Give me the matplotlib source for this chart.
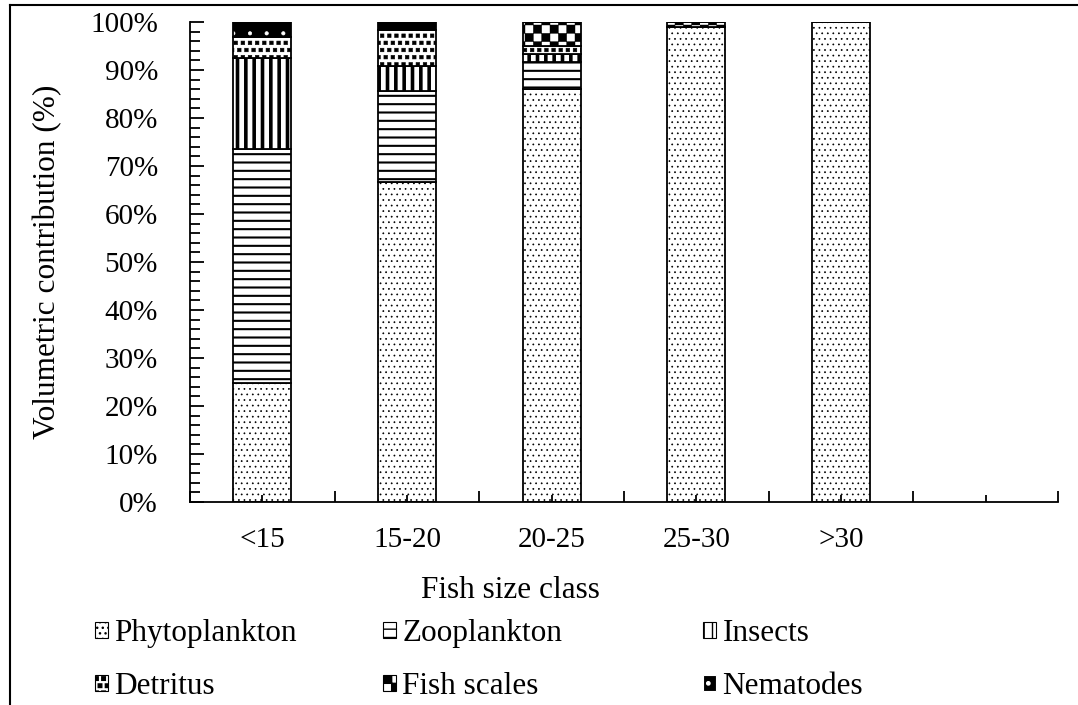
import numpy as np
import matplotlib
matplotlib.use('Agg')
import matplotlib.pyplot as plt
import matplotlib.hatch as mhatch
from matplotlib.path import Path
from matplotlib.patches import Patch
from matplotlib.lines import Line2D

plt.rcParams['font.family'] = ['Liberation Serif', 'DejaVu Serif']
plt.rcParams['font.size'] = 21

# Volumetric contribution (%) of each food item by fish size class
size_classes = ['<15', '15-20', '20-25', '25-30', '>30']
phytoplankton = [24.8, 66.7, 86.0, 98.9, 100.0]
zooplankton = [48.7, 18.9, 5.7, 0.0, 0.0]
insects = [19.0, 5.2, 1.6, 0.0, 0.0]
detritus = [4.4, 7.5, 1.8, 0.0, 0.0]
fish_scales = [0.0, 0.0, 4.9, 1.1, 0.0]
nematodes = [3.1, 1.7, 0.0, 0.0, 0.0]
n_slots = 6  # one empty slot on the right of the axis


# extra hatch patterns: '*' -> scattered filled squares, 'O' -> checkerboard
class SquareHatch(mhatch.Shapes):
    size = 0.5
    filled = True

    def __init__(self, hatch, density):
        # row count must stay even for the staggered layout
        self.num_rows = 7 * hatch.count('*')
        self.shape_vertices = np.array([[-.5, -.5], [.5, -.5], [.5, .5], [-.5, .5], [-.5, -.5]])
        self.shape_codes = np.array([Path.MOVETO, Path.LINETO, Path.LINETO,
                                     Path.LINETO, Path.CLOSEPOLY], dtype=Path.code_type)
        super().__init__(hatch, density)


class CheckerHatch(mhatch.HatchPatternBase):
    def __init__(self, hatch, density):
        self.cells = 12 * hatch.count('O')
        self.num_vertices = (self.cells ** 2 // 2) * 5

    def set_vertices_and_codes(self, vertices, codes):
        d = 1.0 / self.cells
        sq = np.array([[0, 0], [d, 0], [d, d], [0, d], [0, 0]])
        parts = [sq + [i * d, j * d] for i in range(self.cells)
                 for j in range(self.cells) if (i + j) % 2 == 0]
        np.concatenate(parts, out=vertices)
        codes[:] = np.tile([Path.MOVETO, Path.LINETO, Path.LINETO,
                            Path.LINETO, Path.CLOSEPOLY], len(parts))


mhatch._hatch_types[mhatch._hatch_types.index(mhatch.Stars)] = SquareHatch
mhatch._hatch_types[mhatch._hatch_types.index(mhatch.LargeCircles)] = CheckerHatch


def set_hatch_lw(patch, lw):
    if hasattr(patch, 'set_hatch_linewidth'):
        patch.set_hatch_linewidth(lw)
    else:
        draw = patch.draw

        def wrapped(renderer, _draw=draw, _lw=lw):
            with plt.rc_context({'hatch.linewidth': _lw}):
                _draw(renderer)
        patch.draw = wrapped


# name, values, face, hatch, hatch colour, hatch linewidth
layers = [
    ('Phytoplankton', phytoplankton, 'white', '...', 'black', 0.5),
    ('Zooplankton', zooplankton, 'white', '--', 'black', 1.5),
    ('Insects', insects, 'white', '||', 'black', 2.6),
    ('Detritus', detritus, 'white', '**', 'black', 0.4),
    ('Fish scales', fish_scales, 'white', 'O', 'black', 0.3),
    ('Nematodes', nematodes, 'black', '.', 'white', 0.5),
]

fig = plt.figure(figsize=(10.78, 7.05), dpi=100)
ax = fig.add_axes([190 / 1078, 1 - 502 / 705, 868 / 1078, 480 / 705])

x = np.arange(len(size_classes))
width = 0.4
bottom = np.zeros(len(size_classes))
handles = {}
for name, vals, face, hatch, hcol, hlw in layers:
    vals = np.array(vals)
    bars = ax.bar(x, vals, width, bottom=bottom, color=face, edgecolor=hcol,
                  hatch=hatch, linewidth=0)
    for b in bars:
        set_hatch_lw(b, hlw)
    ax.bar(x, vals, width, bottom=bottom, fill=False, edgecolor='black', linewidth=1.3)
    h = Patch(facecolor=face, edgecolor=hcol, hatch=hatch, linewidth=0.8)
    set_hatch_lw(h, hlw)
    handles[name] = h
    bottom += vals

ax.set_xlim(-0.5, n_slots - 0.5)
ax.set_ylim(0, 100)
ax.spines['top'].set_visible(False)
ax.spines['right'].set_visible(False)
for s in ('left', 'bottom'):
    ax.spines[s].set_linewidth(1.3)

ax.set_yticks(np.arange(0, 101, 10))
ax.set_yticks(np.arange(0, 101, 2), minor=True)
ax.set_yticklabels([f'{v}%' for v in range(0, 101, 10)])
ax.tick_params(axis='y', which='major', direction='in', length=10, width=1.3, pad=23)
ax.tick_params(axis='y', which='minor', direction='in', length=7, width=1.3)

ax.set_xticks(np.arange(n_slots))
ax.set_xticklabels(size_classes + [''])
ax.set_xticks(np.arange(-0.5, n_slots, 1), minor=True)
ax.tick_params(axis='x', which='major', direction='in', length=5, width=1.3, pad=18)
ax.tick_params(axis='x', which='minor', direction='in', length=8, width=1.3)

ax.set_xlabel('Fish size class', fontsize=22.5)
ax.xaxis.set_label_coords(320 / 868, -0.155)
ax.set_ylabel('Volumetric contribution (%)', fontsize=22.5, labelpad=20)

# legend laid out in three columns beneath the axis
columns = [('Phytoplankton', 'Detritus'), ('Zooplankton', 'Fish scales'),
           ('Insects', 'Nematodes')]
col_x = [95, 383, 703]
for names, cx in zip(columns, col_x):
    fig.legend([handles[n] for n in names], names, loc='upper left',
               bbox_to_anchor=(cx / 1078, 1 - 619 / 705), frameon=False,
               fontsize=22.5, handlelength=0.42, handleheight=0.42,
               handletextpad=0.2, labelspacing=0.78, borderpad=0,
               borderaxespad=0)

# chart frame
fig.add_artist(Line2D([10 / 1078, 10 / 1078], [0, 1 - 5 / 705], color='black', lw=1.5))
fig.add_artist(Line2D([10 / 1078, 1], [1 - 5 / 705, 1 - 5 / 705], color='black', lw=1.5))

fig.savefig('out.png', dpi=100, facecolor='white')
